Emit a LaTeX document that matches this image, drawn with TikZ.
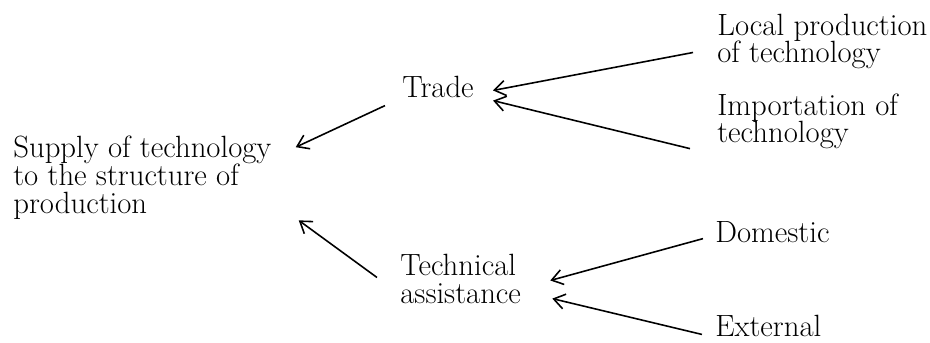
\documentclass[tikz,border=0pt]{standalone}
\usetikzlibrary{arrows.meta}
\begin{document}
\begin{tikzpicture}[x=0.02cm, y=0.02cm,
  every node/.style={inner sep=0pt, align=left, anchor=base west, font=\fontsize{17.5}{15.9}\selectfont},
  barb/.style={-{Straight Barb[length=2.2mm,width=3mm]}, line width=0.9pt}]
\useasboundingbox (0,0) rectangle (930,342);
\node (sup) at (13,129) {Supply of technology\\to the structure of\\production};
\node (tr) at (402,244) {Trade};
\node (ta) at (400,39) {Technical\\assistance};
\node (loc) at (717,279) {Local production\\of technology};
\node (imp) at (717,199) {Importation of\\technology};
\node (dom) at (715,100) {Domestic};
\node (ext) at (715,6) {External};
\draw[barb] ([shift={(-17,-7)}]tr.south west) -- ([shift={(24,-12)}]sup.north east);
\draw[barb] ([shift={(-23,1)}]ta.west) -- ([shift={(27,-1)}]sup.south east);
\draw[barb] ([shift={(-24,-11)}]loc.west) -- ([shift={(19,-3)}]tr.east);
\draw[barb] ([shift={(-27,1)}]imp.south west) -- ([shift={(19,-2)}]tr.south east);
\draw[barb] ([shift={(-12,-7)}]dom.west) -- ([shift={(29,-2)}]ta.east);
\draw[barb] ([shift={(-13,-9)}]ext.west) -- ([shift={(31,5)}]ta.south east);
\end{tikzpicture}
\end{document}
